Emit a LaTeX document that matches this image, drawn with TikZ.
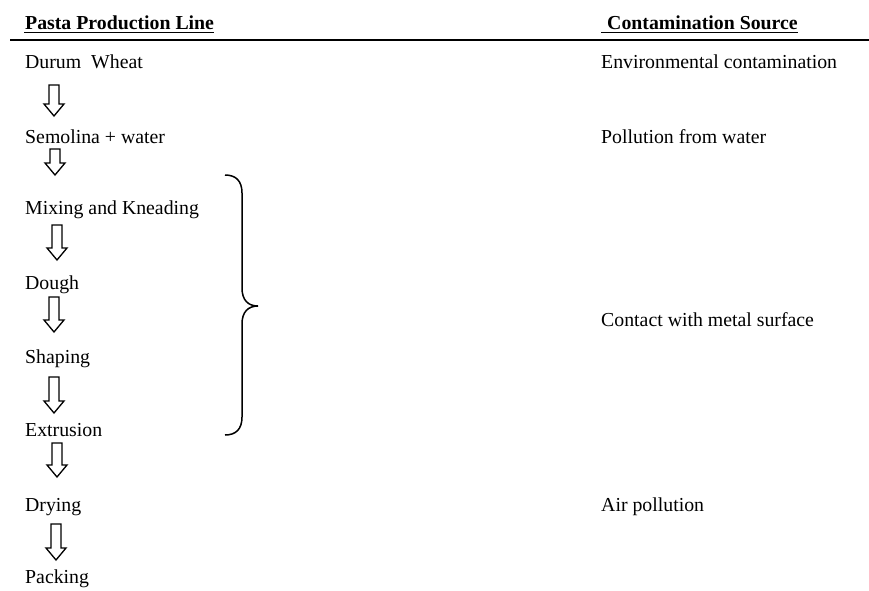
\documentclass[tikz,border=0pt]{standalone}
\usepackage{fontspec}
\setmainfont{Liberation Serif}
\begin{document}
\begin{tikzpicture}[x=1pt,y=-1pt,
  txt/.style={anchor=base west,inner sep=0pt,font=\fontsize{19.8}{24}\selectfont},
  head/.style={txt,font=\fontsize{19.8}{24}\selectfont\bfseries},
  blockarrow/.style={draw=black,line width=1.3pt,line join=miter,fill=white},
  bracepath/.style={draw=black,line width=1.5pt}]
\useasboundingbox (0,0) rectangle (869,590);
% headings
\node[head] (h1) at (25,29.5) {Pasta Production Line};
\node[head] (h2) at (607,29.5) {Contamination Source};
\draw[line width=1.5pt] (24,32.5) -- (h1.base east |- 0,32.5);
\draw[line width=1.5pt] (601,32.5) -- (h2.base east |- 0,32.5);
\draw[line width=2pt] (10,40) -- (869,40);
% left column
\node[txt] (s1) at (25,68.5) {Durum\ \ Wheat};
\node[txt] (s2) at (25,143.5) {Semolina + water};
\node[txt] (s3) at (25,214.5) {Mixing and Kneading};
\node[txt] (s4) at (25,289.5) {Dough};
\node[txt] (s5) at (25,363.5) {Shaping};
\node[txt] (s6) at (25,436.5) {Extrusion};
\node[txt] (s7) at (25,511.5) {Drying};
\node[txt] (s8) at (25,583.5) {Packing};
% right column
\node[txt] (c1) at (601,68.5) {Environmental contamination};
\node[txt] (c2) at (601,143.5) {Pollution from water};
\node[txt] (c3) at (601,326.5) {Contact with metal surface};
\node[txt] (c4) at (601,511.5) {Air pollution};
% block arrows
\newcommand{\blkarrow}[3]{%
  \draw[blockarrow] (#1-5,#2) -- (#1+5,#2) -- (#1+5,#3-12) -- (#1+10,#3-12)
    -- (#1,#3) -- (#1-10,#3-12) -- (#1-5,#3-12) -- cycle;}
\blkarrow{54}{85}{116}
\blkarrow{55}{149}{175}
\blkarrow{57}{225}{260}
\blkarrow{54}{297}{332}
\blkarrow{54}{377}{413}
\blkarrow{57}{443}{477}
\blkarrow{56}{524}{560}
% brace
\coordinate (bt) at (225,175);
\coordinate (btip) at (258,306);
\coordinate (bb) at (225,435);
\draw[bracepath] (bt) .. controls (236,175) and (242,181) .. (242,193)
  -- (242,288) .. controls (242,300) and (248,306) .. (btip)
  .. controls (248,306) and (242,312) .. (242,324)
  -- (242,417) .. controls (242,429) and (236,435) .. (bb);
\end{tikzpicture}
\end{document}
